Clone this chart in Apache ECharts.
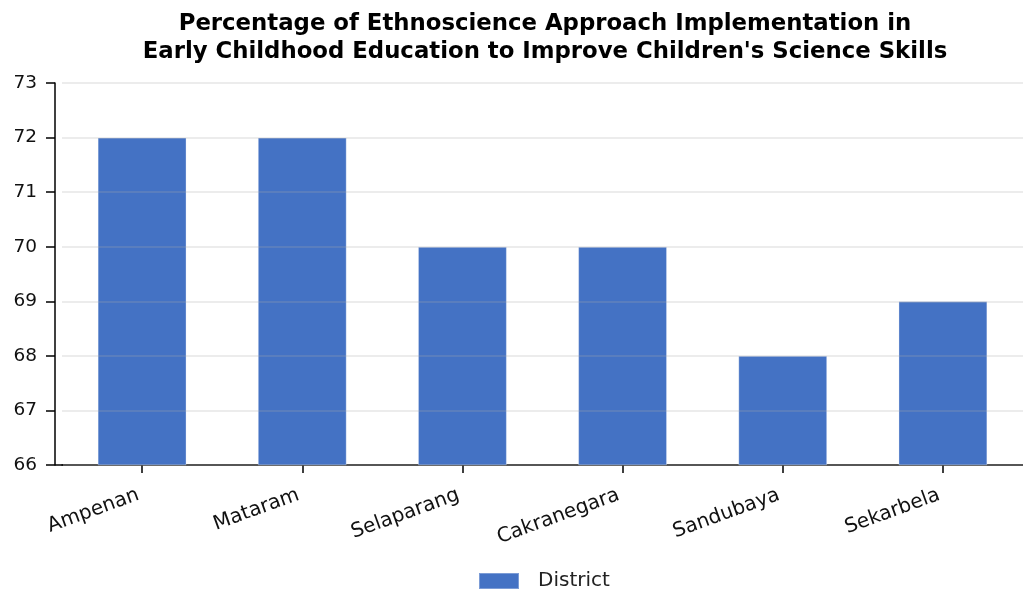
<!DOCTYPE html>
<html>
<head>
<meta charset="utf-8">
<script src="https://cdn.jsdelivr.net/npm/echarts@6/dist/echarts.min.js"></script>
<style>
  html, body { margin: 0; padding: 0; background: #fff; }
  #chart { width: 1023px; height: 589px; }
</style>
</head>
<body>
<div id="chart"></div>
<script>
// District names and the share of ethnoscience implementation per district
const districts = ['Ampenan', 'Mataram', 'Selaparang', 'Cakranegara', 'Sandubaya', 'Sekarbela'];
const percentages = [72, 72, 70, 70, 68, 69];
const yTicks = [66, 67, 68, 69, 70, 71, 72, 73];
const seriesName = 'District';
const titleLines = [
  'Percentage of Ethnoscience Approach Implementation in',
  "Early Childhood Education to Improve Children's Science Skills"
];

const chart = echarts.init(document.getElementById('chart'));
const font = 'DejaVu Sans';

chart.setOption({
  backgroundColor: '#ffffff',
  animation: false,
  title: {
    text: titleLines.join('\n'),
    left: 540,
    top: 5,
    textAlign: 'center',
    textStyle: {
      fontFamily: font,
      fontWeight: 'bold',
      fontSize: 22.8,
      lineHeight: 28,
      color: '#000'
    }
  },
  legend: {
    left: 473,
    top: 566,
    itemWidth: 40,
    itemHeight: 16,
    itemGap: 10,
    icon: 'rect',
    textStyle: { fontFamily: font, fontSize: 20, color: '#222', padding: [0, 0, 0, 14] },
    data: [seriesName]
  },
  grid: { left: 62, right: 0, top: 83, bottom: 124, containLabel: false },
  xAxis: {
    type: 'category',
    data: districts,
    axisLine: { lineStyle: { color: '#000', width: 1.5 } },
    axisTick: { show: true, interval: 0, alignWithLabel: true, length: 8, lineStyle: { color: '#000', width: 1.5 } },
    axisLabel: {
      interval: 0,
      rotate: 20,
      margin: 28,
      padding: [0, 4, 0, 0],
      fontFamily: font,
      fontSize: 20,
      color: '#111'
    }
  },
  yAxis: {
    type: 'value',
    min: yTicks[0],
    max: yTicks[yTicks.length - 1],
    interval: 1,
    offset: 7,
    z: 3,
    axisLine: { show: true, lineStyle: { color: '#000', width: 1.5 } },
    axisTick: { show: true, length: 9, lineStyle: { color: '#000', width: 1.5 } },
    axisLabel: { fontFamily: font, fontSize: 18.5, color: '#111', margin: 18 },
    splitLine: { show: true, lineStyle: { color: 'rgba(170,170,170,0.3)', width: 1.5 } }
  },
  graphic: [{
    type: 'line',
    shape: { x1: 55, y1: 465, x2: 63, y2: 465 },
    style: { stroke: '#000', lineWidth: 1.5 },
    z: 10
  }],
  series: [{
    name: seriesName,
    type: 'bar',
    data: percentages,
    barWidth: '55.5%',
    itemStyle: {
      color: '#4472C4',
      borderColor: 'rgba(255,255,255,0.3)',
      borderWidth: 1
    }
  }]
});
</script>
</body>
</html>
